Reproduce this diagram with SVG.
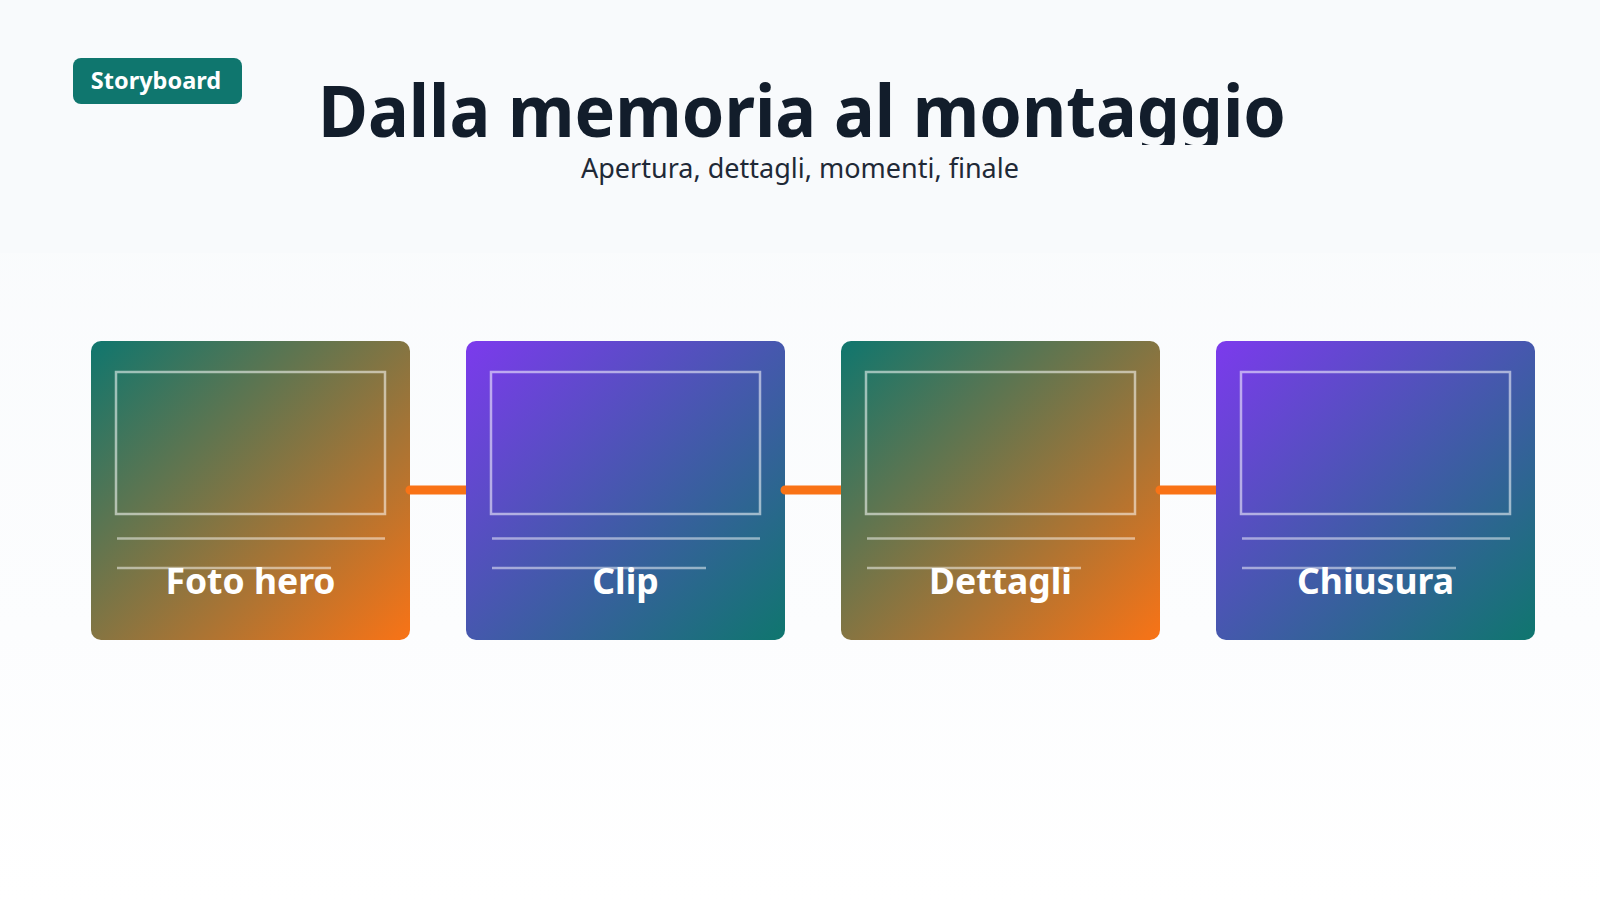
<svg xmlns="http://www.w3.org/2000/svg" width="1600" height="900" viewBox="0 0 1600 900">
  <defs>
    <linearGradient id="bg" x1="0" y1="0" x2="0" y2="1">
      <stop offset="0" stop-color="#f8fafc"/>
      <stop offset="0.7" stop-color="#fcfdfe"/>
      <stop offset="1" stop-color="#ffffff"/>
    </linearGradient>
    <linearGradient id="gWarm" x1="0" y1="0" x2="1" y2="1">
      <stop offset="0" stop-color="#0f766e"/>
      <stop offset="1" stop-color="#f97316"/>
    </linearGradient>
    <linearGradient id="gCool" x1="0" y1="0" x2="1" y2="1">
      <stop offset="0" stop-color="#7c3aed"/>
      <stop offset="1" stop-color="#0f766e"/>
    </linearGradient>
    <clipPath id="titleClip">
      <rect x="0" y="40" width="1600" height="105"/>
    </clipPath>
    <style>
      .card-frame { fill: none; stroke: #ffffff; stroke-opacity: 0.55; stroke-width: 2.5; }
      .card-line { stroke: #ffffff; stroke-opacity: 0.5; stroke-width: 2.5; }
      .card-label { font-family: "Noto Sans", "Open Sans", "Liberation Sans", sans-serif; font-weight: 700; font-size: 35.5px; fill: #ffffff; text-anchor: middle; }
      .conn { fill: #f97316; }
    </style>
  </defs>

  <rect x="0" y="0" width="1600" height="900" fill="url(#bg)"/>
  <rect x="0" y="0" width="1600" height="253" fill="#f8fafc"/>

  <g id="badge">
    <rect x="73" y="58" width="169" height="46" rx="8" fill="#0f766e"/>
    <text x="156" y="89" text-anchor="middle" font-family="Noto Sans, Open Sans, Liberation Sans, sans-serif" font-weight="700" font-size="23.5" fill="#ffffff">Storyboard</text>
  </g>

  <g id="header">
    <text x="802" y="137" text-anchor="middle" textLength="968" lengthAdjust="spacingAndGlyphs" clip-path="url(#titleClip)" font-family="Noto Sans, Open Sans, Liberation Sans, sans-serif" font-weight="700" font-size="71" fill="#121d2b">Dalla memoria al montaggio</text>
    <text x="800" y="178" text-anchor="middle" font-family="Noto Sans, Open Sans, Liberation Sans, sans-serif" font-size="27" fill="#1f2937">Apertura, dettagli, momenti, finale</text>
  </g>

  <g id="card-1">
    <rect x="91" y="341" width="319" height="299" rx="10" fill="url(#gWarm)"/>
    <rect class="card-frame" x="116" y="372" width="269" height="142"/>
    <line class="card-line" x1="117" y1="538.5" x2="385" y2="538.5"/>
    <line class="card-line" x1="117" y1="568" x2="331" y2="568"/>
    <text class="card-label" x="250.5" y="594">Foto hero</text>
  </g>

  <g id="card-2">
    <rect x="466" y="341" width="319" height="299" rx="10" fill="url(#gCool)"/>
    <rect class="card-frame" x="491" y="372" width="269" height="142"/>
    <line class="card-line" x1="492" y1="538.5" x2="760" y2="538.5"/>
    <line class="card-line" x1="492" y1="568" x2="706" y2="568"/>
    <text class="card-label" x="625.5" y="594">Clip</text>
  </g>

  <g id="card-3">
    <rect x="841" y="341" width="319" height="299" rx="10" fill="url(#gWarm)"/>
    <rect class="card-frame" x="866" y="372" width="269" height="142"/>
    <line class="card-line" x1="867" y1="538.5" x2="1135" y2="538.5"/>
    <line class="card-line" x1="867" y1="568" x2="1081" y2="568"/>
    <text class="card-label" x="1000.5" y="594">Dettagli</text>
  </g>

  <g id="card-4">
    <rect x="1216" y="341" width="319" height="299" rx="10" fill="url(#gCool)"/>
    <rect class="card-frame" x="1241" y="372" width="269" height="142"/>
    <line class="card-line" x1="1242" y1="538.5" x2="1510" y2="538.5"/>
    <line class="card-line" x1="1242" y1="568" x2="1456" y2="568"/>
    <text class="card-label" x="1375.5" y="594">Chiusura</text>
  </g>

  <g id="connectors">
    <path class="conn" d="M410,485.5 H466 V494.5 H410 A4.5,4.5 0 0 1 410,485.5 Z"/>
    <path class="conn" d="M785,485.5 H841 V494.5 H785 A4.5,4.5 0 0 1 785,485.5 Z"/>
    <path class="conn" d="M1160,485.5 H1216 V494.5 H1160 A4.5,4.5 0 0 1 1160,485.5 Z"/>
  </g>
</svg>
